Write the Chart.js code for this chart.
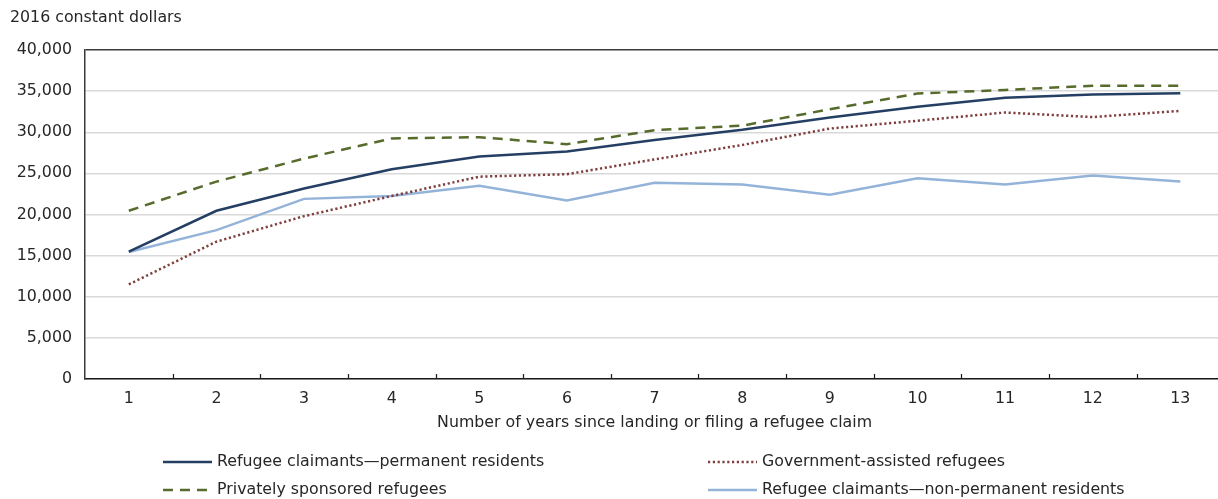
<!DOCTYPE html>
<html>
<head>
<meta charset="utf-8">
<script src="https://cdn.jsdelivr.net/npm/chart.js@4.4.1/dist/chart.umd.min.js"></script>
<style>
  html, body { margin: 0; padding: 0; background: #ffffff; overflow: hidden; }
</style>
</head>
<body>
<canvas id="c" width="1218" height="499"></canvas>
<script>
// Years since landing or filing a refugee claim
const years = [1, 2, 3, 4, 5, 6, 7, 8, 9, 10, 11, 12, 13];

// Median employment income, 2016 constant dollars
const claimantsPermanent = [15500, 20450, 23150, 25500, 27050, 27650, 29050, 30300, 31800, 33100, 34200, 34600, 34750];
const governmentAssisted = [11500, 16700, 19800, 22250, 24600, 24900, 26700, 28450, 30450, 31400, 32400, 31850, 32600];
const privatelySponsored = [20450, 24000, 26800, 29250, 29400, 28550, 30250, 30800, 32800, 34700, 35150, 35650, 35650];
const claimantsNonPermanent = [15450, 18100, 21900, 22250, 23500, 21700, 23850, 23650, 22400, 24400, 23650, 24750, 24000];

const yTicks = [0, 5000, 10000, 15000, 20000, 25000, 30000, 35000, 40000];
const yTitle = '2016 constant dollars';
const xTitle = 'Number of years since landing or filing a refugee claim';

const FONT = '"DejaVu Sans", Verdana, sans-serif';
const FONT_SIZE = 15.8;
const TEXT = '#262626';

// The year axis is a little wider than the page, so its right end runs off the edge
const X_MIN = 0.5;
const X_MAX = 13.43;

const series = [
  { label: 'Refugee claimants\u2014permanent residents', data: claimantsPermanent, color: '#243f63', dash: [] },
  { label: 'Government-assisted refugees', data: governmentAssisted, color: '#7f3f3f', dash: [2.2, 2.6] },
  { label: 'Privately sponsored refugees', data: privatelySponsored, color: '#566b2c', dash: [10, 7] },
  { label: 'Refugee claimants\u2014non-permanent residents', data: claimantsNonPermanent, color: '#94b3d9', dash: [] }
];

// Titles, inside tick marks and the two-column legend
const decorations = {
  id: 'decorations',
  afterDraw(chart) {
    const ctx = chart.ctx;
    const area = chart.chartArea;
    const x = chart.scales.x;
    ctx.save();

    // tick marks between years, pointing into the plot
    ctx.strokeStyle = '#1a1a1a';
    ctx.lineWidth = 1.2;
    for (let i = 0; i < years.length; i++) {
      const px = Math.round(x.getPixelForValue(years[i] + 0.5)) + 0.5;
      if (px > area.right) continue;
      ctx.beginPath();
      ctx.moveTo(px, area.bottom);
      ctx.lineTo(px, area.bottom - 5);
      ctx.stroke();
    }

    ctx.fillStyle = TEXT;
    ctx.font = FONT_SIZE + 'px ' + FONT;
    ctx.textBaseline = 'middle';
    ctx.textAlign = 'left';
    ctx.fillText(yTitle, 10, 18);

    ctx.textAlign = 'center';
    const centre = (x.getPixelForValue(X_MIN) + x.getPixelForValue(years[years.length - 1] + 0.5)) / 2;
    ctx.fillText(xTitle, centre, 423);

    // legend
    const cols = [163, 708];
    const rows = [462, 490];
    chart.data.datasets.forEach((ds, i) => {
      const cx = cols[i % 2];
      const cy = rows[Math.floor(i / 2)];
      ctx.beginPath();
      ctx.strokeStyle = ds.borderColor;
      ctx.lineWidth = 2.5;
      ctx.setLineDash(ds.borderDash || []);
      ctx.lineCap = 'butt';
      ctx.moveTo(cx, cy);
      ctx.lineTo(cx + 49, cy);
      ctx.stroke();
      ctx.setLineDash([]);
      ctx.fillStyle = TEXT;
      ctx.textAlign = 'left';
      ctx.fillText(ds.label, cx + 54, cy);
    });
    ctx.restore();
  }
};

new Chart(document.getElementById('c'), {
  type: 'line',
  data: {
    datasets: series.map(s => ({
      label: s.label,
      data: years.map((yr, i) => ({ x: yr, y: s.data[i] })),
      borderColor: s.color,
      backgroundColor: s.color,
      borderDash: s.dash,
      borderWidth: 2.5,
      borderCapStyle: 'butt',
      pointRadius: 0,
      tension: 0,
      fill: false
    }))
  },
  options: {
    responsive: false,
    animation: false,
    devicePixelRatio: 1,
    layout: { padding: { left: 0, top: 50, right: 0, bottom: 0 } },
    plugins: {
      legend: { display: false },
      title: { display: false },
      tooltip: { enabled: false }
    },
    scales: {
      x: {
        type: 'linear',
        min: X_MIN,
        max: X_MAX,
        afterBuildTicks(scale) { scale.ticks = years.map(v => ({ value: v })); },
        grid: { display: false, drawTicks: false },
        border: { display: true, color: '#1a1a1a', width: 1.5 },
        ticks: {
          color: TEXT,
          font: { family: FONT, size: FONT_SIZE },
          padding: 10,
          maxRotation: 0,
          autoSkip: false,
          callback: v => String(v)
        },
        afterFit(scale) { scale.height = 120; }
      },
      y: {
        min: 0,
        max: 40000,
        afterBuildTicks(scale) { scale.ticks = yTicks.map(v => ({ value: v })); },
        grid: {
          drawTicks: false,
          lineWidth: 1.5,
          color: ctx => (ctx.tick && ctx.tick.value === 40000) ? '#3a3a3a' : '#d9d9d9'
        },
        border: { display: true, color: '#3a3a3a', width: 1.5 },
        ticks: {
          color: TEXT,
          font: { family: FONT, size: FONT_SIZE },
          padding: 13,
          callback: v => Number(v).toLocaleString('en-US')
        },
        afterFit(scale) { scale.width = 85; }
      }
    }
  },
  plugins: [decorations]
});
</script>
</body>
</html>
